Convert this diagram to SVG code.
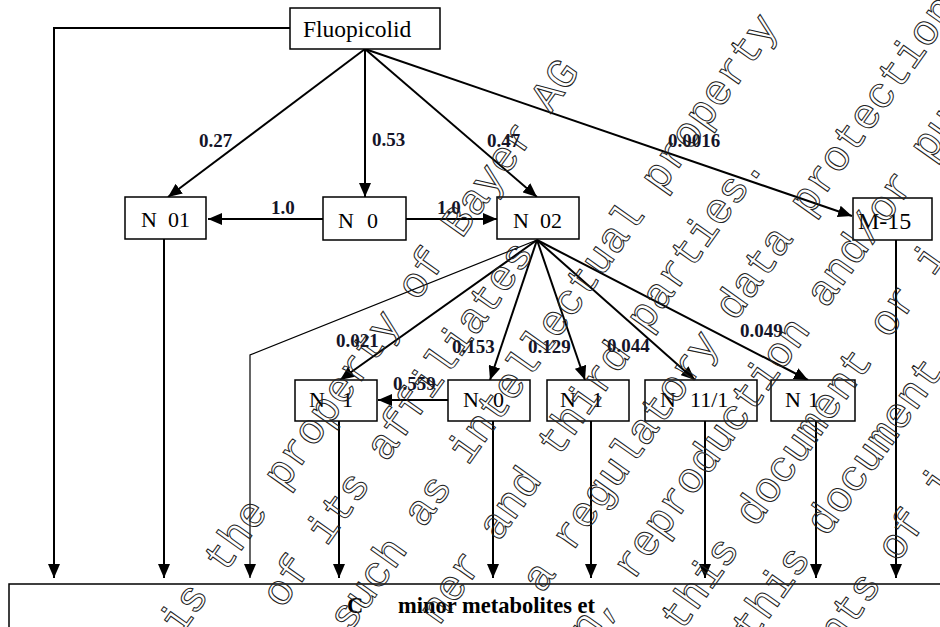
<svg xmlns="http://www.w3.org/2000/svg" width="940" height="627" viewBox="0 0 940 627">
<style>
.box{fill:#fff;stroke:#000;stroke-width:1.5}
.nt{font-family:"Liberation Serif",serif;font-size:22px;fill:#000}
.lb{font-family:"Liberation Serif",serif;font-size:19px;font-weight:bold;fill:#141428}
.ln{fill:none;stroke:#000;stroke-width:2}
.thin{fill:none;stroke:#000;stroke-width:1.2}
.wm{font-family:"Liberation Mono",monospace;font-size:42.77px;fill:none;stroke:#222;stroke-width:1}
</style>
<defs>
<marker id="ah" viewBox="0 0 14 12" refX="14" refY="6" markerWidth="14" markerHeight="12" markerUnits="userSpaceOnUse" orient="auto">
<path d="M0,0 L14,6 L0,12 z" fill="#000"/>
</marker>
</defs>
<rect width="940" height="627" fill="#fff"/>

<g id="connectors">
<path class="ln" d="M290,28 H54 V578" marker-end="url(#ah)"/>
<path class="ln" d="M365,49 L168,197" marker-end="url(#ah)"/>
<path class="ln" d="M365,49 L365,197" marker-end="url(#ah)"/>
<path class="ln" d="M365,49 L537,197" marker-end="url(#ah)"/>
<path class="ln" d="M365,49 L852,216" marker-end="url(#ah)"/>
<path class="ln" d="M323,219 L208,219" marker-end="url(#ah)"/>
<path class="ln" d="M406,219 L497,219" marker-end="url(#ah)"/>
<path class="ln" d="M164,239 V578" marker-end="url(#ah)"/>
<path class="ln" d="M896,240 V578" marker-end="url(#ah)"/>
<path class="thin" d="M537,240 L250,355 V578" marker-end="url(#ah)"/>
<path class="ln" d="M537,240 L340,380" marker-end="url(#ah)"/>
<path class="ln" d="M537,240 L490,380" marker-end="url(#ah)"/>
<path class="ln" d="M537,240 L585,380" marker-end="url(#ah)"/>
<path class="ln" d="M537,240 L695,380" marker-end="url(#ah)"/>
<path class="ln" d="M537,240 L808,380" marker-end="url(#ah)"/>
<path class="ln" d="M448,400 L378,400" marker-end="url(#ah)"/>
<path class="ln" d="M339,421 V578" marker-end="url(#ah)"/>
<path class="ln" d="M493,421 V578" marker-end="url(#ah)"/>
<path class="ln" d="M591,421 V578" marker-end="url(#ah)"/>
<path class="ln" d="M705,421 V578" marker-end="url(#ah)"/>
<path class="ln" d="M816,421 V578" marker-end="url(#ah)"/>
<text class="lb" x="199" y="147">0.27</text>
<text class="lb" x="372" y="146">0.53</text>
<text class="lb" x="487" y="147">0.47</text>
<text class="lb" x="668" y="147">0.0016</text>
<text class="lb" x="271" y="214">1.0</text>
<text class="lb" x="437" y="214">1.0</text>
<text class="lb" x="336" y="347">0.021</text>
<text class="lb" x="452" y="353">0.153</text>
<text class="lb" x="528" y="353">0.129</text>
<text class="lb" x="607" y="352">0.044</text>
<text class="lb" x="740" y="337">0.049</text>
<text class="lb" x="393" y="390">0.559</text>
</g>

<g id="fluopicolid">
<rect class="box" x="290" y="8" width="150" height="41"/>
<text class="nt" x="303" y="37" style="font-size:23.5px">Fluopicolid</text>
</g>
<g id="m01">
<rect class="box" x="125" y="197" width="81" height="42"/>
<text class="nt" x="141" y="227">N</text><text class="nt" x="168" y="227">01</text>
</g>
<g id="m0">
<rect class="box" x="323" y="197" width="83" height="43"/>
<text class="nt" x="338" y="228">N</text><text class="nt" x="367" y="228">0</text>
</g>
<g id="m02">
<rect class="box" x="497" y="197" width="82" height="42"/>
<text class="nt" x="513" y="228">N</text><text class="nt" x="540" y="228">02</text>
</g>
<g id="m15">
<rect class="box" x="853" y="198" width="79" height="42"/>
<text class="nt" x="858" y="229" style="font-size:24px">M-15</text>
</g>
<g id="r3a">
<rect class="box" x="295" y="380" width="82" height="41"/>
<text class="nt" x="309" y="407">N</text><text class="nt" x="342" y="407">1</text>
</g>
<g id="r3b">
<rect class="box" x="448" y="380" width="82" height="41"/>
<text class="nt" x="463" y="407">N</text><text class="nt" x="493" y="407">0</text>
</g>
<g id="r3c">
<rect class="box" x="547" y="380" width="82" height="41"/>
<text class="nt" x="560" y="407">N</text><text class="nt" x="592" y="407">1</text>
</g>
<g id="r3d">
<rect class="box" x="645" y="380" width="112" height="41"/>
<text class="nt" x="660" y="407">N</text><text class="nt" x="690" y="407">11/1</text>
</g>
<g id="r3e">
<rect class="box" x="771" y="380" width="84" height="41"/>
<text class="nt" x="785" y="407">N</text><text class="nt" x="808" y="407">1</text>
</g>
<g id="sink">
<rect class="box" x="9" y="584" width="960" height="60"/>
<text x="347" y="613" style="font-family:'Liberation Serif',serif;font-size:22.5px;font-weight:bold">C</text>
<text x="398" y="613" style="font-family:'Liberation Serif',serif;font-size:22.5px;font-weight:bold">minor metabolites et</text>
</g>

<g id="watermark" class="wm" transform="translate(178.6,620.7) rotate(-54.7)">
<text x="-12.8" y="10.7">is the property of Bayer AG</text>
<text x="69" y="78.3">of its affiliates</text>
<text x="88.1" y="146.8">such as intellectual property</text>
<text x="145.9" y="215.9">ner and third parties.</text>
<text x="231.5" y="281.7">a regulatory data protection</text>
<text x="217.8" y="348.5">n, reproduction and/or pu</text>
<text x="280.3" y="417.2">this document or i</text>
<text x="313.7" y="480.7">this document</text>
<text x="359.2" y="553.5">nts of i</text>
</g>
</svg>
